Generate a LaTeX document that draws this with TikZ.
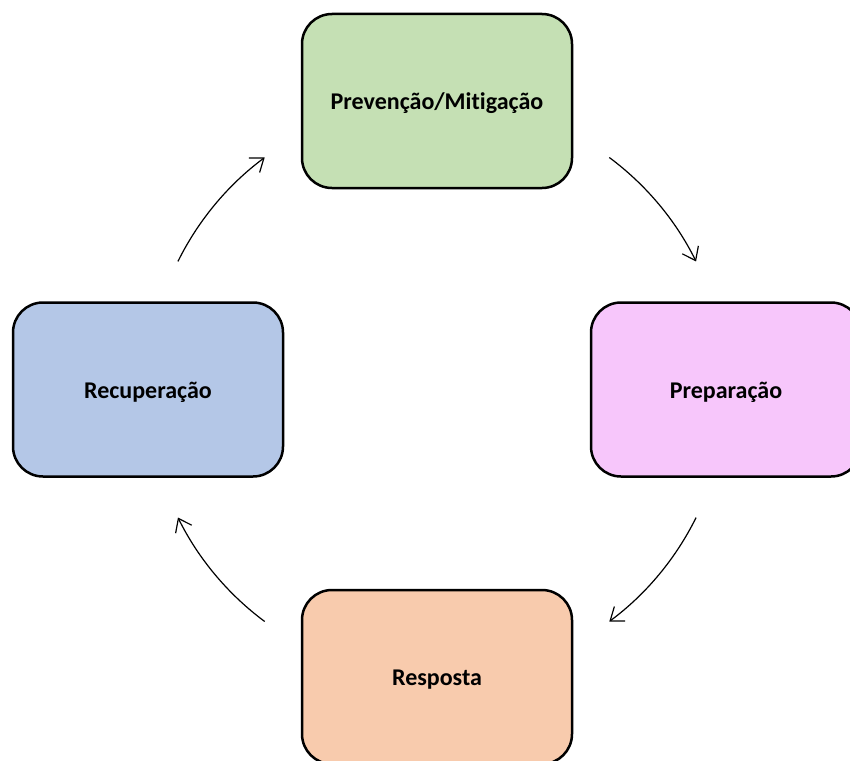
\documentclass[tikz,border=0pt]{standalone}
\usepackage{fontspec}
\setmainfont[Ligatures=NoCommon]{Carlito}
\usetikzlibrary{arrows.meta,calc}
\definecolor{cgreen}{HTML}{C5E0B4}
\definecolor{cpink}{HTML}{F7C6FB}
\definecolor{corange}{HTML}{F8CBAD}
\definecolor{cblue}{HTML}{B4C7E7}
\newcommand\phasetxt[1]{\raisebox{-2.5pt}[\height][\depth]{#1}}
\tikzset{
  phase/.style={draw=black, line width=2.5pt, rounded corners=30pt,
    minimum width=270pt, minimum height=174pt, inner sep=0pt,
    font=\fontsize{24}{28}\selectfont\bfseries},
  cyc/.style={line width=1.2pt, -{Straight Barb[length=12pt,width=18pt,line width=1.2pt]}}
}
\begin{document}
\begin{tikzpicture}[x=1pt,y=-1pt]
\clip (0,0) rectangle (850,760);
\fill[white] (0,0) rectangle (850,760);
\node[phase, fill=cgreen] (prev) at (437,101) {\phasetxt{Prevenção/Mitigação}};
\node[phase, fill=cpink] (prep) at (726,389.5) {\phasetxt{Preparação}};
\node[phase, fill=corange] (resp) at (437,677) {\phasetxt{Resposta}};
\node[phase, fill=cblue] (recu) at (148,389.5) {\phasetxt{Recuperação}};
\coordinate (ctr) at (437,389.5);
\coordinate (a1) at ($(ctr)+(-53.4:289)$);
\coordinate (a2) at ($(ctr)+(26.3:289)$);
\coordinate (a3) at ($(ctr)+(-233.4:289)$);
\coordinate (a4) at ($(ctr)+(-153.7:289)$);
\draw[cyc] (a1) arc[start angle=-53.4, end angle=-26.3, radius=289];
\draw[cyc] (a2) arc[start angle=26.3, end angle=53.4, radius=289];
\draw[cyc] (a3) arc[start angle=-233.4, end angle=-206.3, radius=289];
\draw[cyc] (a4) arc[start angle=-153.7, end angle=-126.6, radius=289];
\end{tikzpicture}
\end{document}
